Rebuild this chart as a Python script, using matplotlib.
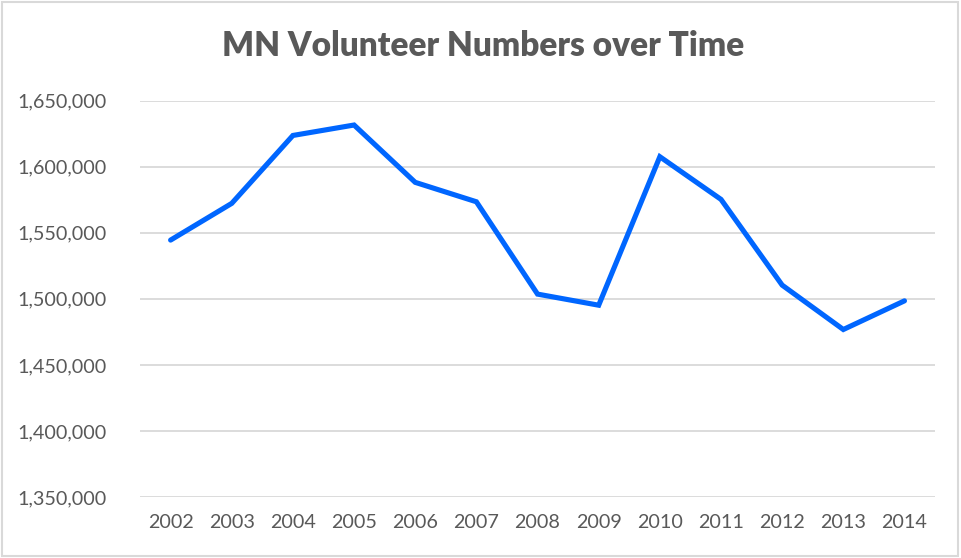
import matplotlib.pyplot as plt
from matplotlib.patches import Rectangle
from matplotlib.ticker import FuncFormatter

years = ['2002', '2003', '2004', '2005', '2006', '2007', '2008',
         '2009', '2010', '2011', '2012', '2013', '2014']
volunteers = [1544500, 1572300, 1623700, 1631600, 1588200, 1573500, 1503600,
              1495200, 1607600, 1575300, 1510400, 1476800, 1498500]

plt.rcParams['font.family'] = ['Lato', 'DejaVu Sans']
text_color = '#595959'

fig = plt.figure(figsize=(9.61, 5.58), dpi=100)
ax = fig.add_axes([0.1457, 0.1093, 0.8273, 0.7102])

x = range(len(years))
ax.plot(x, volunteers, color='#0066ff', linewidth=3.7, solid_capstyle='round',
        solid_joinstyle='miter')

ax.set_xlim(-0.5, len(years) - 0.5)
ax.set_ylim(1350000, 1650000)
ax.set_yticks(range(1350000, 1650001, 50000))
ax.yaxis.set_major_formatter(FuncFormatter(lambda v, p: f'{int(v):,}'))
ax.set_xticks(list(x))
ax.set_xticklabels(years)

ax.grid(axis='y', color='#d9d9d9', linewidth=1.3)
ax.set_axisbelow(True)
for s in ax.spines.values():
    s.set_visible(False)
ax.tick_params(length=0, labelsize=14.2, colors=text_color, pad=12)
ax.tick_params(axis='y', pad=24)

fig.text(0.503, 0.917, 'MN Volunteer Numbers over Time', ha='center', va='center',
         fontsize=24, fontweight='heavy', color=text_color)

fig.patches.append(Rectangle((0.002, 0.004), 0.995, 0.992, transform=fig.transFigure,
                             fill=False, edgecolor='#d9d9d9', linewidth=1.5))

fig.savefig('out.png', dpi=100)
